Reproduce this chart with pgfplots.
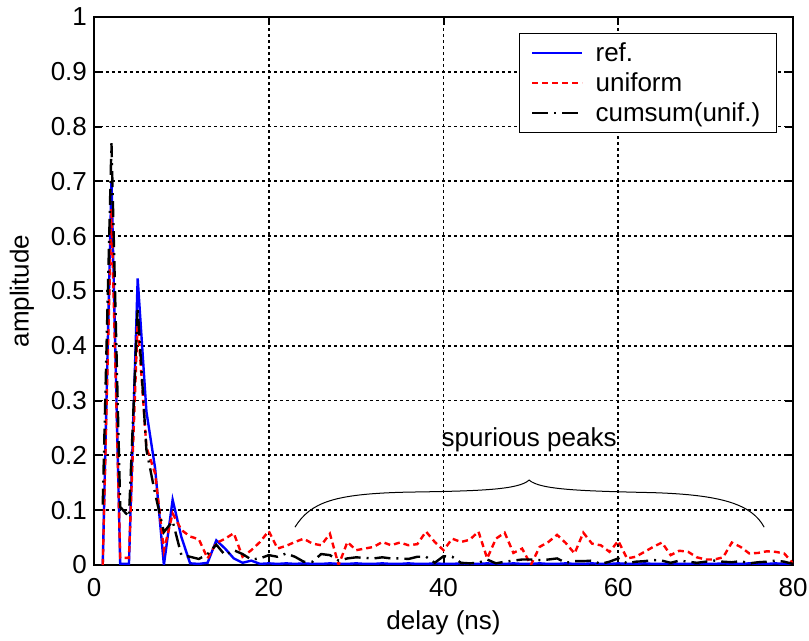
\documentclass[border=0pt]{standalone}
\usepackage{fontspec}
\setmainfont{Liberation Sans}
\usepackage{pgfplots}
\usepackage{pgfplotstable}
\pgfplotsset{compat=1.18}

\pgfplotstableread{
x ref uni cum
1 0 0 0.11
2 0.70 0.65 0.77
3 0.002 0.013 0.106
4 0.002 0.013 0.088
5 0.523 0.445 0.47
6 0.28 0.215 0.21
7 0.176 0.167 0.13
8 0.0 0.027 0.06
9 0.119 0.094 0.08
10 0.051 0.064 0.018
11 0.003 0.052 0.015
12 0.002 0.047 0.011
13 0.004 0.012 0.02
14 0.045 0.040 0.037
15 0.030 0.048 0.018
16 0.012 0.058 0.027
17 0.004 0.015 0.02
18 0.008 0.027 0.01
19 0.002 0.042 0.012
20 0.003 0.062 0.018
21 0.002 0.030 0.015
22 0.003 0.035 0.021
23 0.002 0.042 0.015
24 0.003 0.048 0.006
25 0.002 0.039 0.006
26 0.002 0.036 0.02
27 0.003 0.057 0.018
28 0.002 0.0 0.008
29 0.002 0.042 0.012
30 0.003 0.027 0.014
31 0.002 0.030 0.013
32 0.002 0.033 0.012
33 0.003 0.042 0.014
34 0.002 0.036 0.012
35 0.002 0.041 0.012
36 0.003 0.036 0.011
37 0.002 0.038 0.015
38 0.002 0.061 0.015
39 0.003 0.042 0.004
40 0.002 0.027 0.016
41 0.002 0.048 0.015
42 0.003 0.042 0.004
43 0.002 0.046 0.003
44 0.002 0.061 0.004
45 0.003 0.012 0.01
46 0.002 0.048 0.003
47 0.002 0.059 0.006
48 0.003 0.022 0.008
49 0.002 0.030 0.01
50 0.002 0.0 0.01
51 0.003 0.033 0.009
52 0.002 0.042 0.01
53 0.002 0.055 0.012
54 0.003 0.040 0.004
55 0.002 0.021 0.007
56 0.002 0.059 0.007
57 0.003 0.039 0.008
58 0.002 0.036 0.002
59 0.002 0.024 0.006
60 0.003 0.044 0.012
61 0.002 0.012 0.003
62 0.002 0.015 0.006
63 0.003 0.024 0.007
64 0.002 0.033 0.009
65 0.002 0.041 0.008
66 0.003 0.018 0.004
67 0.002 0.026 0.008
68 0.002 0.024 0.006
69 0.003 0.014 0.004
70 0.002 0.010 0.006
71 0.002 0.010 0.008
72 0.003 0.014 0.006
73 0.002 0.041 0.005
74 0.002 0.033 0.007
75 0.003 0.021 0.003
76 0.002 0.022 0.005
77 0.002 0.025 0.006
78 0.003 0.024 0.008
79 0.002 0.021 0.006
80 0.002 0.003 0.002
}\datatable

\begin{document}
\begin{tikzpicture}[font=\fontsize{13}{15.6}\selectfont]
\begin{axis}[
  name=ax,
  scale only axis,
  width=349.5pt, height=274pt,
  xmin=0, xmax=80, ymin=0, ymax=1,
  xtick={0,20,40,60,80},
  ytick={0,0.1,...,1.0},
  tick pos=both,
  tick align=inside,
  major tick length=4pt,
  axis line style={line width=1pt},
  every tick/.style={black, line width=1pt},
  grid=major,
  major grid style={black, line width=0.9pt, dash pattern=on 1.5pt off 1.5pt},
  /pgf/number format/assume math mode=true,
  yticklabel style={/pgf/number format/.cd, fixed, precision=1},
  xticklabel style={yshift=-3pt},
  xlabel={delay (ns)},
  ylabel={amplitude},
  xlabel style={at={(axis description cs:0.5,-0.106)}, anchor=center},
  ylabel style={at={(axis description cs:-0.103,0.5)}, anchor=center},
  legend style={at={(rel axis cs:0.977,0.971)}, anchor=north east,
    draw=black, line width=0.6pt, fill=white,
    inner xsep=6pt, inner ysep=2.3pt, row sep=0pt,
    cells={anchor=west, text height=9.5pt, text depth=2.8pt, inner ysep=1pt}},
  legend image code/.code={\draw[#1] (0pt,0pt) -- (25pt,0pt); \path (29pt,0pt);},
]
\addplot[blue, line width=1.2pt, solid] table[x=x, y=ref] {\datatable};
\addlegendentry{ref.}
\addplot[red, line width=1.2pt, dash pattern=on 3pt off 2pt] table[x=x, y=uni] {\datatable};
\addlegendentry{uniform}
\addplot[black, line width=1.2pt, dash pattern=on 8pt off 3pt on 1pt off 3pt] table[x=x, y=cum] {\datatable};
\addlegendentry{cumsum(unif.)}
\draw[black, line width=0.5pt] (axis cs:23,0.069) .. controls (axis cs:24.8,0.115) and (axis cs:27.5,0.13) .. (axis cs:36,0.133)
  .. controls (axis cs:44,0.135) and (axis cs:48.6,0.137) .. (axis cs:49.8,0.155)
  .. controls (axis cs:51,0.137) and (axis cs:56,0.135) .. (axis cs:64,0.132)
  .. controls (axis cs:72,0.128) and (axis cs:75.3,0.11) .. (axis cs:76.7,0.069);
\node[anchor=base] at (axis cs:49.8,0.216) {spurious peaks};
\end{axis}
\pgfresetboundingbox
\path ([xshift=-47pt,yshift=-38pt]ax.south west) rectangle ([xshift=8pt,yshift=8.5pt]ax.north east);
\end{tikzpicture}
\end{document}
